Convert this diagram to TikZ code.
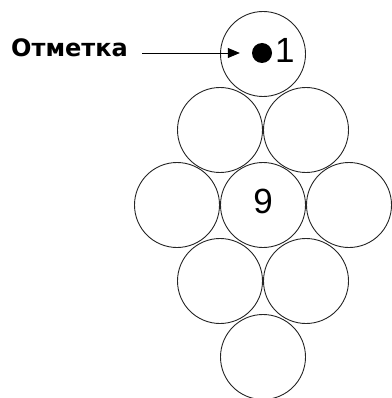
\documentclass[tikz,border=0pt]{standalone}
\usepackage{fontspec}
\setmainfont{Liberation Sans}
\newfontfamily\labelfont{DejaVu Sans}
\usetikzlibrary{arrows.meta}
\tikzset{
  ball/.style={circle,draw=black!85,line width=.9pt,minimum size=85pt,inner sep=0pt},
  dot/.style={circle,fill=black,minimum size=20pt,inner sep=0pt},
  num/.style={font=\fontsize{35}{38}\selectfont,inner sep=0pt}
}
\begin{document}
\begin{tikzpicture}[x=1pt,y=-1pt]
\useasboundingbox (0,0) rectangle (391,398);
\node[ball] (c1) at (263,54) {};
\node[ball] (c2) at (306,130) {};\node[ball] (c8) at (220,130) {};
\node[ball] (c7) at (177,205) {};\node[ball] (c9) at (263,205) {};\node[ball] (c3) at (349,205) {};
\node[ball] (c6) at (220,281) {};\node[ball] (c4) at (306,281) {};
\node[ball] (c5) at (263,357) {};
\node[dot] (mark) at (262,53) {};
\node[num,anchor=base west] (n1) at (275,63) {1};
\node[num,anchor=base] (n9) at (263,213) {9};
\node[font=\labelfont\bfseries\fontsize{24}{27}\selectfont,anchor=base east,inner sep=0pt] (lbl) at (128,57) {Отметка};
\draw[-{Triangle[length=12pt,width=10pt]},line width=.8pt,shorten <=14pt,shorten >=12pt] (lbl.east |- mark) -- (mark);
\end{tikzpicture}
\end{document}
